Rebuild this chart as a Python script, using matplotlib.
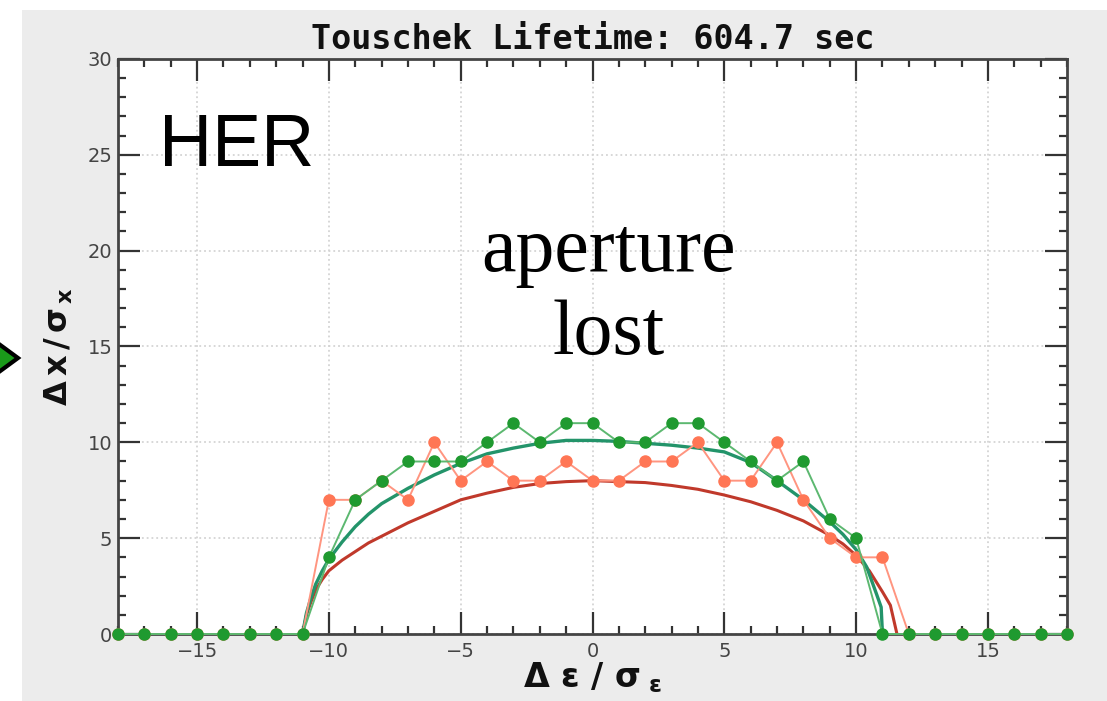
import numpy as np
import matplotlib
matplotlib.use('Agg')
import matplotlib.pyplot as plt
from matplotlib.patches import Rectangle, Polygon

plt.rcParams['mathtext.fontset'] = 'custom'
plt.rcParams['mathtext.rm'] = 'DejaVu Sans:bold'
plt.rcParams['mathtext.it'] = 'DejaVu Sans:bold'
plt.rcParams['mathtext.bf'] = 'DejaVu Sans:bold'

# tracked points, dE/sigma_E from -18 to 18
de = np.arange(-18, 19)
green_pts = [0, 0, 0, 0, 0, 0, 0, 0,
             4, 7, 8, 9, 9, 9, 10, 11, 10, 11,
             11,
             10, 10, 11, 11, 10, 9, 8, 9, 6, 5,
             0, 0, 0, 0, 0, 0, 0, 0]
red_pts = [0, 0, 0, 0, 0, 0, 0, 0,
           7, 7, 8, 7, 10, 8, 9, 8, 8, 9,
           8,
           8, 9, 9, 10, 8, 8, 10, 7, 5, 4,
           4, 0, 0, 0, 0, 0, 0, 0]

# smooth aperture curves
green_fit_x = [-11, -10.85, -10.7, -10.5, -10.25, -10, -9.5, -9, -8.5, -8, -7, -6, -5,
               -4, -3, -2, -1, 0, 1, 2, 3, 4, 5, 6, 7, 8, 9, 9.5, 10, 10.4,
               10.77, 10.95, 11]
green_fit_y = [0, 1.1, 1.8, 2.6, 3.3, 3.9, 4.8, 5.6, 6.25, 6.8, 7.6, 8.3, 8.9,
               9.4, 9.7, 9.95, 10.1, 10.1, 10.05, 9.95, 9.85, 9.7, 9.5, 8.95, 8.0, 7.0,
               5.85, 5.2, 4.4, 3.5, 2.1, 1.4, 0]
red_fit_x = [-11, -10.85, -10.7, -10.5, -10.25, -10, -9.5, -9, -8.5, -8, -7, -6, -5,
             -4, -3, -2, -1, 0, 1, 2, 3, 4, 5, 6, 7, 8, 9, 9.5, 10, 10.5,
             11, 11.3, 11.55]
red_fit_y = [0, 1.0, 1.6, 2.3, 2.85, 3.3, 3.85, 4.3, 4.75, 5.1, 5.8, 6.4, 7.0,
             7.35, 7.65, 7.85, 7.95, 8.0, 7.95, 7.9, 7.75, 7.55, 7.25, 6.9, 6.45, 5.9,
             5.15, 4.7, 4.1, 3.3, 2.2, 1.5, 0]

title = 'Touschek Lifetime: 604.7 sec'

W, H = 1107, 701
fig = plt.figure(figsize=(W / 100, H / 100), dpi=100)
fig.patch.set_facecolor('white')
fig.patches.append(Rectangle((22 / W, 0), 1 - 22 / W, (H - 10) / H,
                             transform=fig.transFigure, facecolor='#ececec',
                             edgecolor='none', zorder=-5))

ax = fig.add_axes([118 / W, (H - 634) / H, (1067 - 118) / W, (634 - 59) / H])
ax.set_zorder(1)
ax.set_facecolor('white')

ax.plot(red_fit_x, red_fit_y, color='#c0392b', lw=2.2, zorder=3)
ax.plot(green_fit_x, green_fit_y, color='#23946a', lw=2.4, zorder=3)
ax.plot(de, red_pts, color='#ff9580', lw=1.4, marker='o', ms=8,
        mfc='#ff7655', mec='#ff7655', zorder=4, clip_on=False)
ax.plot(de, green_pts, color='#5cb870', lw=1.4, marker='o', ms=8,
        mfc='#1f9a30', mec='#1f9a30', zorder=5, clip_on=False)

ax.set_xlim(-18, 18)
ax.set_ylim(0, 30)
ax.set_xticks([-15, -10, -5, 0, 5, 10, 15])
ax.set_xticks(np.arange(-18, 19), minor=True)
ax.set_yticks(np.arange(0, 31, 5))
ax.set_yticks(np.arange(0, 31, 1), minor=True)
ax.tick_params(which='both', direction='in', top=True, right=True,
               color='#333333', width=1.6, labelcolor='#444444', labelsize=14)
ax.tick_params(which='major', length=16)
ax.tick_params(which='minor', length=5.5)
ax.tick_params(axis='y', pad=4)
ax.tick_params(axis='x', pad=6)
for s in ax.spines.values():
    s.set_color('#444444')
    s.set_linewidth(2)
ax.grid(True, which='major', color='#d4d4d4', linestyle=':', lw=1.3)
ax.set_axisbelow(True)

ax.set_title(title, fontfamily='DejaVu Sans Mono', fontweight='bold',
             fontsize=24, pad=7, color='#111111')
ax.set_ylabel(r'$\Delta\,x\,/\,\sigma_{\,x}$', fontsize=23, labelpad=9, color='#111111')
ax.set_xlabel(r'$\Delta\ \varepsilon\ /\ \sigma_{\ \varepsilon}$', fontsize=24,
              labelpad=-1, color='#111111')

ax.text(-16.46, 24.4, 'HER', fontfamily='Liberation Sans', fontsize=53,
        ha='left', va='baseline', color='black', zorder=6)
ax.text(0.6, 18.96, 'aperture', fontfamily='Liberation Serif', fontsize=56,
        ha='center', va='baseline', color='black', zorder=6)
ax.text(0.6, 14.6, 'lost', fontfamily='Liberation Serif', fontsize=56,
        ha='center', va='baseline', color='black', zorder=6)

# arrow head sticking in from the left edge
tri = [(-12 / W, (H - 336) / H), (18 / W, (H - 358) / H), (-12 / W, (H - 380) / H)]
fig.patches.append(Polygon(tri, closed=True, transform=fig.transFigure,
                           facecolor='#1a9a1a', edgecolor='black', lw=3, zorder=2))

fig.savefig('out.png', dpi=100)
